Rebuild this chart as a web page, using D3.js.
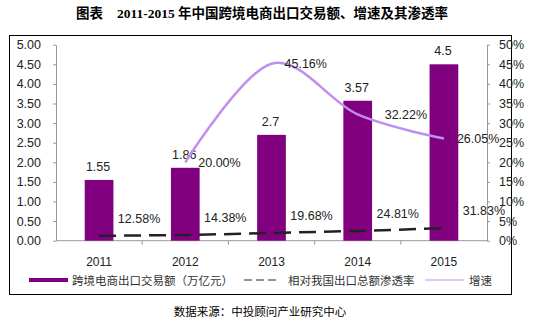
<!DOCTYPE html>
<html>
<head>
<meta charset="utf-8">
<script src="https://cdn.jsdelivr.net/npm/d3@7"></script>
<style>
  body { margin: 0; background: #fff; }
  text { font-family: "Liberation Sans", Arial, "Noto Sans CJK SC", sans-serif; }
</style>
</head>
<body>
<div id="chart"></div>
<script>
// chart data
var years = ["2011", "2012", "2013", "2014", "2015"];
var exportAmount = [1.55, 1.86, 2.7, 3.57, 4.5];          // 万亿元
var penetration = [12.58, 14.38, 19.68, 24.81, 31.83];    // %
var growth = [null, 20.00, 45.16, 32.22, 26.05];          // %
var leftTicks = [0, 0.5, 1, 1.5, 2, 2.5, 3, 3.5, 4, 4.5, 5];
var rightTicks = [0, 5, 10, 15, 20, 25, 30, 35, 40, 45, 50];

var svgWidth = 543;
var svgHeight = 321;

var margin = { top: 45, right: 57, bottom: 80, left: 56 };
var width = 431;
var height = 196;

var svg = d3.select("#chart")
  .append("svg")
  .attr("width", svgWidth)
  .attr("height", svgHeight);

// title
var title = svg.append("text")
  .attr("x", 262)
  .attr("y", 18)
  .attr("text-anchor", "middle")
  .style("font-weight", "bold")
  .style("font-size", "13.5px")
  .style("font-family", "'Liberation Serif', 'Noto Sans CJK SC', serif");
title.append("tspan").text("图表");
title.append("tspan").attr("dx", 14).text("2011-2015");
title.append("tspan").text(" 年中国跨境电商出口交易额、增速及其渗透率");

// frame
svg.append("rect")
  .attr("x", 9.5)
  .attr("y", 35.5)
  .attr("width", 502)
  .attr("height", 259)
  .attr("fill", "none")
  .attr("stroke", "#000")
  .attr("stroke-width", 1);

var chart = svg.append("g")
  .attr("transform", `translate(${margin.left}, ${margin.top - 0.3})`);

// scales
var x = d3.scaleBand()
  .domain(years)
  .range([0, width])
  .paddingInner(0.667)
  .paddingOuter(0.333);

var xPoint = d => x(d) + x.bandwidth() / 2;

var yLeft = d3.scaleLinear().domain([0, 5]).range([height, 0]);
var yRight = d3.scaleLinear().domain([0, 50]).range([height, 0]);

// axes
var leftAxis = d3.axisLeft(yLeft)
  .tickValues(leftTicks)
  .tickFormat(d3.format(".2f"))
  .tickSizeInner(3)
  .tickSizeOuter(0)
  .tickPadding(12);

var rightAxis = d3.axisRight(yRight)
  .tickValues(rightTicks)
  .tickFormat(d => d + "%")
  .tickSizeInner(3)
  .tickSizeOuter(0)
  .tickPadding(9);

var gLeft = chart.append("g").call(leftAxis);
var gRight = chart.append("g")
  .attr("transform", `translate(${width}, 0)`)
  .call(rightAxis);

[gLeft, gRight].forEach(function(g) {
  g.select(".domain").attr("stroke", "#999");
  g.selectAll(".tick line").attr("stroke", "#999");
  g.selectAll(".tick text")
    .style("font-size", "12.5px")
    .attr("fill", "#222");
});

// x axis with ticks between categories
chart.append("line")
  .attr("x1", 0).attr("x2", width)
  .attr("y1", height).attr("y2", height)
  .attr("stroke", "#999");

chart.selectAll(".xsep")
  .data(d3.range(1, years.length))
  .enter()
  .append("line")
  .attr("x1", i => x.step() * i)
  .attr("x2", i => x.step() * i)
  .attr("y1", height)
  .attr("y2", height + 4)
  .attr("stroke", "#999");

chart.selectAll(".xlabel")
  .data(years)
  .enter()
  .append("text")
  .attr("x", d => xPoint(d))
  .attr("y", height + 25)
  .attr("text-anchor", "middle")
  .style("font-size", "12px")
  .attr("fill", "#222")
  .text(d => d);

// bars
chart.selectAll(".bar")
  .data(exportAmount)
  .enter()
  .append("rect")
  .attr("x", (d, i) => x(years[i]))
  .attr("y", d => yLeft(d))
  .attr("width", x.bandwidth())
  .attr("height", d => height - yLeft(d))
  .attr("fill", "#800080");

chart.selectAll(".barlabel")
  .data(exportAmount)
  .enter()
  .append("text")
  .attr("x", (d, i) => xPoint(years[i]) - 1)
  .attr("y", d => yLeft(d) - 9)
  .attr("text-anchor", "middle")
  .style("font-size", "12.5px")
  .attr("fill", "#222")
  .text(d => d);

// penetration rate, drawn as a fraction on the left axis
var penLine = d3.line()
  .x((d, i) => xPoint(years[i]))
  .y(d => yLeft(d / 100));

chart.append("path")
  .datum(penetration)
  .attr("d", penLine)
  .attr("fill", "none")
  .attr("stroke", "#222")
  .attr("stroke-width", 2.5)
  .attr("stroke-dasharray", "17,8");

chart.selectAll(".penlabel")
  .data(penetration)
  .enter()
  .append("text")
  .attr("x", (d, i) => xPoint(years[i]) + 40)
  .attr("y", d => yLeft(d / 100) - 13)
  .attr("text-anchor", "middle")
  .style("font-size", "12.5px")
  .attr("fill", "#222")
  .text(d => d.toFixed(2) + "%");

// growth line
var growthData = growth
  .map((d, i) => ({ year: years[i], value: d }))
  .filter(d => d.value !== null);

var growthLine = d3.line()
  .x(d => xPoint(d.year))
  .y(d => yRight(d.value))
  .curve(d3.curveCardinal.tension(0));

chart.append("path")
  .datum(growthData)
  .attr("d", growthLine)
  .attr("fill", "none")
  .attr("stroke", "#BF8FEF")
  .attr("stroke-width", 2.5);

chart.selectAll(".growlabel")
  .data(growthData)
  .enter()
  .append("text")
  .attr("x", d => xPoint(d.year) + (d.year === "2014" ? 27 : 13))
  .attr("y", d => yRight(d.value) + 4.5)
  .style("font-size", "12.5px")
  .attr("fill", "#222")
  .text(d => d.value.toFixed(2) + "%");

// legend
var legend = svg.append("g").attr("transform", "translate(0, 280)");

legend.append("rect")
  .attr("x", 29).attr("y", -2)
  .attr("width", 39).attr("height", 4)
  .attr("fill", "#800080");

legend.append("line")
  .attr("x1", 244).attr("x2", 280)
  .attr("y1", 0).attr("y2", 0)
  .attr("stroke", "#222")
  .attr("stroke-width", 1)
  .attr("stroke-dasharray", "8,4");

legend.append("line")
  .attr("x1", 425).attr("x2", 464)
  .attr("y1", 0).attr("y2", 0)
  .attr("stroke", "#BF8FEF")
  .attr("stroke-width", 1);

var legendItems = [
  { x: 72, text: "跨境电商出口交易额（万亿元）" },
  { x: 288, text: "相对我国出口总额渗透率" },
  { x: 469, text: "增速" }
];

legend.selectAll(".legtext")
  .data(legendItems)
  .enter()
  .append("text")
  .attr("x", d => d.x)
  .attr("y", 4.5)
  .style("font-size", "11.5px")
  .style("font-family", "'Noto Sans CJK SC', sans-serif")
  .attr("fill", "#333")
  .text(d => d.text);

// source
svg.append("text")
  .attr("x", 260)
  .attr("y", 316)
  .attr("text-anchor", "middle")
  .style("font-size", "11.5px")
  .style("font-family", "'Noto Sans CJK SC', sans-serif")
  .attr("fill", "#000")
  .text("数据来源：中投顾问产业研究中心");
</script>
</body>
</html>
